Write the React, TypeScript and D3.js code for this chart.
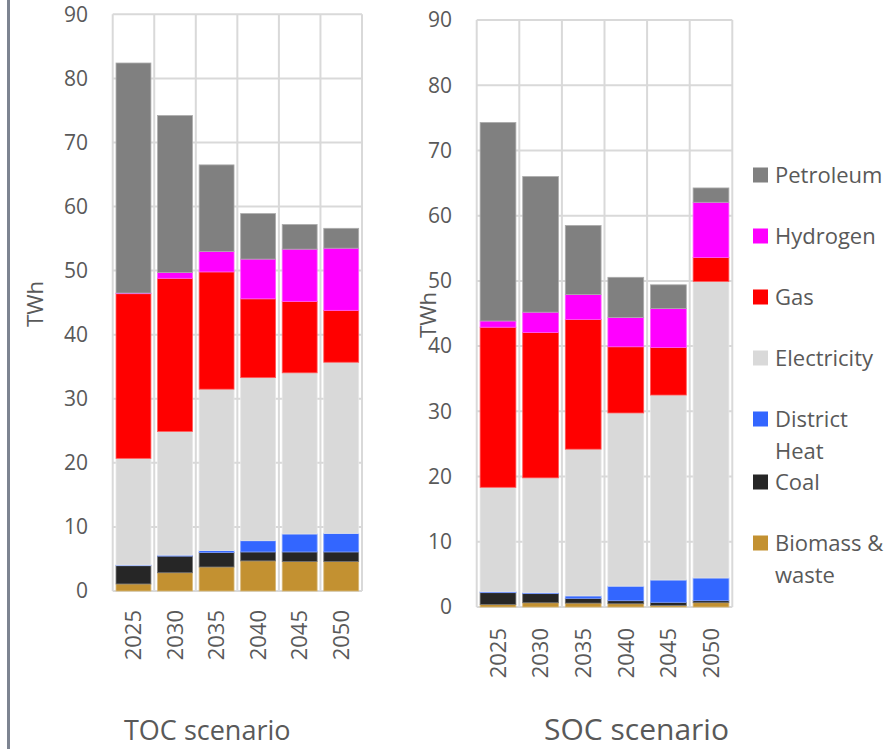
import React from "react";
import * as d3 from "d3";

const years = ["2025", "2030", "2035", "2040", "2045", "2050"];
const seriesNames = ["Biomass & waste", "Coal", "District Heat", "Electricity", "Gas", "Hydrogen", "Petroleum"];
const seriesColors = ["#c39131", "#262626", "#3366ff", "#d9d9d9", "#ff0000", "#ff00ff", "#808080"];

// TOC scenario (TWh)
const tocBiomass = [1.1, 2.85, 3.75, 4.7, 4.6, 4.6];
const tocCoal = [2.85, 2.6, 2.25, 1.4, 1.5, 1.5];
const tocDistrictHeat = [0.1, 0.15, 0.3, 1.75, 2.8, 2.9];
const tocElectricity = [16.65, 19.3, 25.2, 25.45, 25.15, 26.7];
const tocGas = [25.7, 23.9, 18.3, 12.3, 11.15, 8.1];
const tocHydrogen = [0.1, 0.9, 3.2, 6.2, 8.15, 9.7];
const tocPetroleum = [35.9, 24.5, 13.5, 7.1, 3.85, 3.1];

// SOC scenario (TWh)
const socBiomass = [0.4, 0.65, 0.6, 0.5, 0.25, 0.66];
const socCoal = [1.8, 1.4, 0.73, 0.47, 0.47, 0.31];
const socDistrictHeat = [0.15, 0.15, 0.37, 2.23, 3.42, 3.48];
const socElectricity = [16.0, 17.6, 22.5, 26.55, 28.36, 45.45];
const socGas = [24.55, 22.3, 19.9, 10.15, 7.3, 3.7];
const socHydrogen = [0.95, 3.1, 3.8, 4.5, 5.95, 8.45];
const socPetroleum = [30.45, 20.8, 10.6, 6.15, 3.65, 2.2];

const yTicks = [0, 10, 20, 30, 40, 50, 60, 70, 80, 90];
const legendOrder = ["Petroleum", "Hydrogen", "Gas", "Electricity", "District Heat", "Coal", "Biomass & waste"];
const legendLines: Record<string, string[]> = {
  "Petroleum": ["Petroleum"],
  "Hydrogen": ["Hydrogen"],
  "Gas": ["Gas"],
  "Electricity": ["Electricity"],
  "District Heat": ["District", "Heat"],
  "Coal": ["Coal"],
  "Biomass & waste": ["Biomass &", "waste"],
};

const FONT = "'Open Sans', 'Noto Sans', sans-serif";
const TEXT = "#595959";
const GRID = "#d9d9d9";

function buildRows(cols: number[][]) {
  return years.map((y, i) => {
    const row: Record<string, any> = { year: y };
    seriesNames.forEach((s, k) => (row[s] = cols[k][i]));
    return row;
  });
}

type PanelProps = {
  cols: number[][];
  x0: number; x1: number; yTop: number; yBottom: number;
  labelX: number; twhX: number; twhY: number; yearY: number;
  title: string; titleX: number; titleSize: number;
};

function Panel(p: PanelProps) {
  const rows = buildRows(p.cols);
  const stack = d3.stack<any>().keys(seriesNames)(rows);
  const x = d3.scaleBand<string>().domain(years).range([p.x0, p.x1]).paddingInner(0.16).paddingOuter(0.08);
  const y = d3.scaleLinear().domain([0, 90]).range([p.yBottom, p.yTop]);
  const bandW = (p.x1 - p.x0) / years.length;
  const vlines = d3.range(years.length + 1).map((i) => p.x0 + i * bandW);
  return (
    <g>
      {yTicks.map((t) => (
        <line key={"h" + t} x1={p.x0} x2={p.x1} y1={y(t)} y2={y(t)} stroke={GRID} strokeWidth={2} />
      ))}
      {vlines.map((vx, i) => (
        <line key={"v" + i} x1={vx} x2={vx} y1={p.yTop} y2={p.yBottom} stroke={GRID} strokeWidth={2} />
      ))}
      {stack.map((layer, k) => (
        <g key={layer.key}>
          {layer.map((d: any, i: number) => {
            const h = y(d[0]) - y(d[1]);
            const c = seriesColors[k];
            return (
              <rect
                key={i}
                x={x(years[i])}
                y={y(d[1])}
                width={x.bandwidth()}
                height={Math.max(h, 0)}
                fill={c}
                stroke={d3.interpolateRgb(c, "#ffffff")(0.35)}
                strokeWidth={0.8}
              />
            );
          })}
        </g>
      ))}
      {yTicks.map((t) => (
        <text key={"t" + t} x={p.labelX} y={y(t)} dy="0.35em" textAnchor="end" fontSize={21} fill={TEXT} fontFamily={FONT}>
          {t}
        </text>
      ))}
      <text
        transform={`translate(${p.twhX},${p.twhY}) rotate(-90)`}
        textAnchor="middle"
        dy="0.35em"
        fontSize={22}
        fill={TEXT}
        fontFamily={FONT}
      >
        TWh
      </text>
      {years.map((yr) => (
        <text
          key={yr}
          transform={`translate(${(x(yr) as number) + x.bandwidth() / 2},${p.yearY}) rotate(-90)`}
          textAnchor="end"
          dy="0.35em"
          fontSize={22}
          fill={TEXT}
          fontFamily={FONT}
        >
          {yr}
        </text>
      ))}
      <text x={p.titleX} y={740} fontSize={p.titleSize} fill={TEXT} fontFamily={FONT}>
        {p.title}
      </text>
    </g>
  );
}

export default function App() {
  const toc = [tocBiomass, tocCoal, tocDistrictHeat, tocElectricity, tocGas, tocHydrogen, tocPetroleum];
  const soc = [socBiomass, socCoal, socDistrictHeat, socElectricity, socGas, socHydrogen, socPetroleum];
  const legendY = [175, 236, 297, 358, 419, 482, 543];
  return (
    <svg width={889} height={749} style={{ position: "absolute", left: 0, top: 0, background: "#fff" }}>
      <rect x={0} y={0} width={889} height={749} fill="#ffffff" />
      <rect x={7} y={0} width={3} height={749} fill="#7d8491" />
      <Panel
        cols={toc}
        x0={112.7} x1={362} yTop={14.3} yBottom={591}
        labelX={88} twhX={35} twhY={304} yearY={610}
        title="TOC scenario" titleX={124} titleSize={27}
      />
      <Panel
        cols={soc}
        x0={476.7} x1={732.3} yTop={20} yBottom={607}
        labelX={452} twhX={428} twhY={315} yearY={628}
        title="SOC scenario" titleX={544} titleSize={30}
      />
      {legendOrder.map((name, i) => {
        const k = seriesNames.indexOf(name);
        const cy = legendY[i];
        return (
          <g key={name}>
            <rect x={753} y={cy - 7.5} width={15} height={15} fill={seriesColors[k]} />
            {legendLines[name].map((ln, j) => (
              <text key={j} x={775} y={cy + j * 32.7} dy="0.35em" fontSize={22} fill={TEXT} fontFamily={FONT}>
                {ln}
              </text>
            ))}
          </g>
        );
      })}
    </svg>
  );
}
